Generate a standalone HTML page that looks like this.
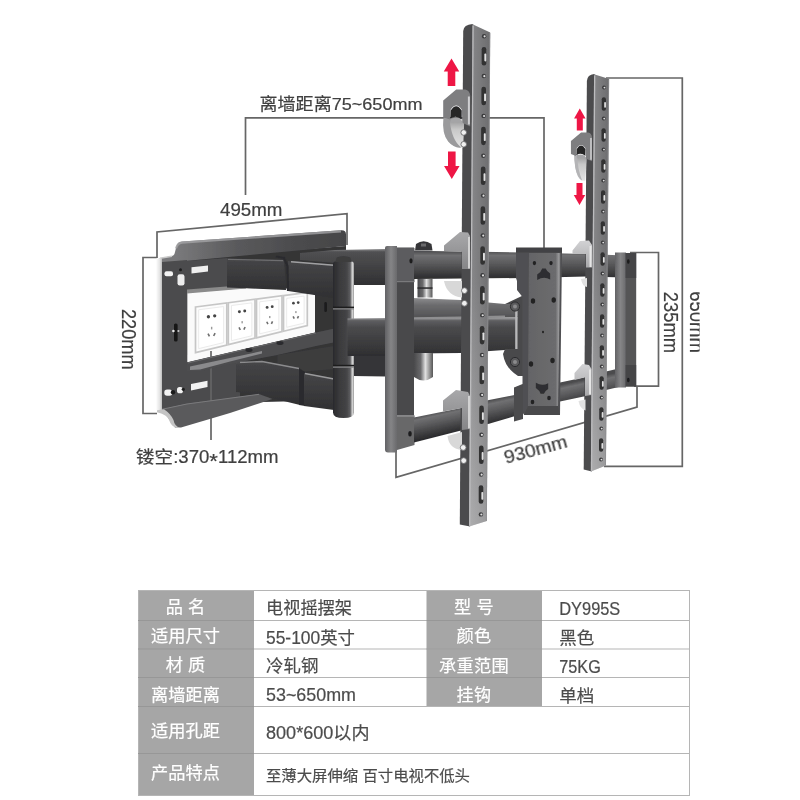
<!DOCTYPE html>
<html lang="zh-CN">
<head>
<meta charset="utf-8">
<title>电视摇摆架 DY995S</title>
<style>
html,body{margin:0;padding:0;background:#fff;}
body{width:800px;height:800px;overflow:hidden;position:relative;}
svg{position:absolute;left:0;top:0;display:block;}
svg text{font-family:"Liberation Sans","Noto Sans CJK SC",sans-serif;}
</style>
</head>
<body>
<svg width="800" height="800" viewBox="0 0 800 800">
<defs>
<linearGradient id="gTubeU" x1="0" y1="251" x2="0" y2="279" gradientUnits="userSpaceOnUse"><stop offset="0" stop-color="#4e4e50"/><stop offset="0.18" stop-color="#6f6f71"/><stop offset="0.5" stop-color="#58585a"/><stop offset="0.85" stop-color="#3a3a3c"/><stop offset="1" stop-color="#2c2c2e"/></linearGradient>
<linearGradient id="gBox" x1="0" y1="0" x2="0" y2="1"><stop offset="0" stop-color="#6a6a6c"/><stop offset="0.2" stop-color="#58585a"/><stop offset="0.75" stop-color="#444446"/><stop offset="1" stop-color="#323234"/></linearGradient>
<linearGradient id="gCap" x1="176" y1="0" x2="346" y2="0" gradientUnits="userSpaceOnUse"><stop offset="0" stop-color="#7a7a7c"/><stop offset="0.35" stop-color="#5a5a5c"/><stop offset="0.7" stop-color="#4c4c4e"/><stop offset="1" stop-color="#454547"/></linearGradient>
<linearGradient id="gArm" x1="0" y1="0" x2="0" y2="1"><stop offset="0" stop-color="#8a8a8c"/><stop offset="0.08" stop-color="#505052"/><stop offset="0.6" stop-color="#3e3e40"/><stop offset="1" stop-color="#303032"/></linearGradient>
<linearGradient id="gArm2" x1="0" y1="0" x2="0" y2="1"><stop offset="0" stop-color="#464648"/><stop offset="1" stop-color="#303032"/></linearGradient>
<linearGradient id="gCyl" x1="0" y1="0" x2="1" y2="0"><stop offset="0" stop-color="#2a2a2c"/><stop offset="0.3" stop-color="#3a3a3c"/><stop offset="0.65" stop-color="#444446"/><stop offset="0.82" stop-color="#5e5e60"/><stop offset="0.92" stop-color="#d6d6d6"/><stop offset="1" stop-color="#9a9a9a"/></linearGradient>
<linearGradient id="gPin" x1="0" y1="0" x2="1" y2="0"><stop offset="0" stop-color="#4a4a4c"/><stop offset="0.35" stop-color="#6a6a6c"/><stop offset="0.6" stop-color="#e0e0e0"/><stop offset="0.8" stop-color="#9a9a9a"/><stop offset="1" stop-color="#555"/></linearGradient>
<linearGradient id="gBarL" x1="0" y1="0" x2="1" y2="0"><stop offset="0" stop-color="#626264"/><stop offset="0.5" stop-color="#858587"/><stop offset="1" stop-color="#6a6a6c"/></linearGradient>
<linearGradient id="gStrip" x1="0" y1="0" x2="1" y2="0"><stop offset="0" stop-color="#fbfbfb"/><stop offset="0.6" stop-color="#e4e4e4"/><stop offset="1" stop-color="#bdbdbd"/></linearGradient>
<linearGradient id="gFaceL" x1="0" y1="0" x2="1" y2="0"><stop offset="0" stop-color="#8a8a8c"/><stop offset="1" stop-color="#6c6c6e"/></linearGradient>
<linearGradient id="gPlateF" x1="0" y1="0" x2="1" y2="0"><stop offset="0" stop-color="#646466"/><stop offset="0.85" stop-color="#6c6c6e"/><stop offset="0.95" stop-color="#9a9a9c"/><stop offset="1" stop-color="#6a6a6c"/></linearGradient>
<linearGradient id="gTab" x1="0" y1="0" x2="0" y2="1"><stop offset="0" stop-color="#a8a8aa"/><stop offset="1" stop-color="#868688"/></linearGradient>
<linearGradient id="gTabR" x1="0" y1="0" x2="0" y2="1"><stop offset="0" stop-color="#d2d2d4"/><stop offset="1" stop-color="#a8a8aa"/></linearGradient>
<linearGradient id="gHookS" x1="0" y1="0" x2="0" y2="1"><stop offset="0" stop-color="#8c8c8e"/><stop offset="0.4" stop-color="#c8c8c8"/><stop offset="1" stop-color="#e4e4e4"/></linearGradient>
<clipPath id="clip650"><rect x="600" y="280" width="99.6" height="90"/></clipPath>
<filter id="soft" filterUnits="userSpaceOnUse" x="0" y="0" width="800" height="800"><feGaussianBlur stdDeviation="0.6"/></filter>
<filter id="softT" filterUnits="userSpaceOnUse" x="0" y="0" width="800" height="800"><feGaussianBlur stdDeviation="0.45"/></filter>
</defs>
<g filter="url(#soft)">
<polyline points="245.5,195 245.5,117.8 544,117.8 544,248" fill="none" stroke="#666666" stroke-width="1.7" />
<polyline points="157,258 157,232 347,213.7 347,245" fill="none" stroke="#666666" stroke-width="1.7" />
<polyline points="157,257.5 143,257.5 143,413.5 157,413.5" fill="none" stroke="#666666" stroke-width="1.7" />
<polyline points="396,450 396,477.4 637,407 637,386" fill="none" stroke="#666666" stroke-width="1.7" />
<polyline points="630,252.5 658.5,252.5 658.5,386.2 634,386.2" fill="none" stroke="#666666" stroke-width="1.7" />
<polyline points="606,78 682.3,78 682.3,466.3 604,466.3" fill="none" stroke="#666666" stroke-width="1.7" />
<g id="wallplate">
<polygon points="186,258 346,246 346,400 186,404" fill="#343436" />
<polygon points="186,261 227.5,258 227.5,292 186,294" fill="#4b4b4d" />
<polygon points="186,355 240,350 240,402 186,405" fill="#4b4b4d" />
<polygon points="187.3,292.5 246,288 315,289 315,332.5 187.3,362.3" fill="#fafafa" />
<polygon points="187,289.5 246,285 246,288.5 187,293.5" fill="#8a8a8a" />
<polygon points="195.5,307 226.8,302.93 226.8,345.01 195.5,352.6" fill="#fcfcfc" stroke="#c6c6c6" stroke-width="1.7"/>
<polygon points="198.7,309.78 223.6,306.55 223.6,342.59 198.7,348.62" fill="#ffffff" stroke="#e6e6e6" stroke-width="0.8"/>
<circle cx="208.419" cy="316.722" r="1.66258" fill="#444" />
<circle cx="214.679" cy="315.847" r="1.66258" fill="#444" />
<rect x="210.95" y="326.793" width="1.4" height="2.62516" fill="#9a9a9a" />
<line x1="208.015" y1="333.58" x2="209.429" y2="336.426" stroke="#6e6e6e" stroke-width="1.6"/>
<line x1="215.083" y1="333.142" x2="213.669" y2="335.988" stroke="#6e6e6e" stroke-width="1.6"/>
<polygon points="228.3,302.74 255,299.26 255,338.18 228.3,344.65" fill="#fcfcfc" stroke="#c6c6c6" stroke-width="1.7"/>
<polygon points="231.5,305.52 251.8,302.88 251.8,335.75 231.5,340.67" fill="#ffffff" stroke="#e6e6e6" stroke-width="0.8"/>
<circle cx="239.394" cy="311.832" r="1.46968" fill="#444" />
<circle cx="244.734" cy="311.025" r="1.46968" fill="#444" />
<rect x="241.45" y="321.114" width="1.4" height="2.23935" fill="#9a9a9a" />
<line x1="239.049" y1="327.369" x2="240.255" y2="329.992" stroke="#6e6e6e" stroke-width="1.6"/>
<line x1="245.078" y1="326.965" x2="243.873" y2="329.589" stroke="#6e6e6e" stroke-width="1.6"/>
<polygon points="256.5,299.07 282,295.75 282,331.63 256.5,337.81" fill="#fcfcfc" stroke="#c6c6c6" stroke-width="1.7"/>
<polygon points="259.7,301.85 278.8,299.37 278.8,329.21 259.7,333.84" fill="#ffffff" stroke="#e6e6e6" stroke-width="0.8"/>
<circle cx="267.118" cy="307.406" r="1.41935" fill="#444" />
<circle cx="272.218" cy="306.661" r="1.41935" fill="#444" />
<rect x="269.05" y="315.975" width="1.4" height="2.13871" fill="#9a9a9a" />
<line x1="266.789" y1="321.749" x2="267.94" y2="324.171" stroke="#6e6e6e" stroke-width="1.6"/>
<line x1="272.547" y1="321.377" x2="271.395" y2="323.798" stroke="#6e6e6e" stroke-width="1.6"/>
<polygon points="283.5,295.56 307.3,292.47 307.3,325.5 283.5,331.27" fill="#fcfcfc" stroke="#c6c6c6" stroke-width="1.7"/>
<polygon points="286.7,298.34 304.1,296.08 304.1,323.08 286.7,327.29" fill="#ffffff" stroke="#e6e6e6" stroke-width="0.8"/>
<circle cx="293.443" cy="303.213" r="1.34806" fill="#444" />
<circle cx="298.203" cy="302.527" r="1.34806" fill="#444" />
<rect x="295.2" y="311.106" width="1.4" height="1.99613" fill="#9a9a9a" />
<line x1="293.136" y1="316.424" x2="294.211" y2="318.655" stroke="#6e6e6e" stroke-width="1.6"/>
<line x1="298.51" y1="316.081" x2="297.435" y2="318.312" stroke="#6e6e6e" stroke-width="1.6"/>
<rect x="324.3" y="302" width="2.6" height="10" fill="#1c1c1e" rx="1.2"/>
<rect x="324.5" y="336.5" width="3" height="4.5" fill="#e8e8e8" />
<polyline points="211,351 211,440" fill="none" stroke="#666666" stroke-width="1.7" />
<polygon points="187,362.5 230,352.5 316,332.5 346,326 346,340 316,346 277.5,355 230,364 200,371 187,371" fill="#4e4e50" />
<polygon points="190,366.5 230,358 262,351 262,353.5 230,361.5 200,369.5 190,370" fill="#8a8a8c" />
<polyline points="188,363 230,353 316,333" fill="none" stroke="#6a6a6c" stroke-width="1" />
<ellipse cx="249" cy="350" rx="3.6" ry="2" fill="#2c2c2e"/>
<ellipse cx="280" cy="343" rx="3.6" ry="2" fill="#2c2c2e"/>
<polygon points="277.5,355 346,344 346,368 300,372 277.5,366" fill="#3c3c3e" />
<polygon points="236,364 262,361 300,368.5 300,405 255,394 236,392" fill="url(#gArm2)" />
<polyline points="240,362.5 262,361.5 299,368.5" fill="none" stroke="#8c8c8e" stroke-width="1.3" />
<polygon points="299,368 305,372 305,406 299,405" fill="#2c2c2e" />
<polygon points="304,373 334,378.5 334,410 304,406" fill="url(#gArm2)" />
<polyline points="305,373.5 334,379" fill="none" stroke="#9a9a9c" stroke-width="1.3" />
<polygon points="227,258.5 284,260 286,290 227,287.5" fill="url(#gArm2)" />
<polyline points="228,259.3 283,260.6" fill="none" stroke="#6e6e70" stroke-width="1.2" />
<polygon points="288,261 334,264.5 334,298 288,291" fill="url(#gArm2)" />
<polyline points="291,261.8 334,265.2" fill="none" stroke="#a0a0a2" stroke-width="1.6" />
<polyline points="276,256.5 284,258 287.5,266 288,291" fill="none" stroke="#2c2c2e" stroke-width="2.2" />
<polygon points="300,253 335,250 385,249 385,285 352,285 335,263 300,260" fill="url(#gArm)" />
<path d="M159,258.5 L172,256 Q174.5,255.5 175,252 L176.5,246 Q177.5,241.8 182,241.5 L341,230.3 Q346,230 346,234.5 L346,246 L174,262 L162,262.5 Z" fill="url(#gCap)" />
<polyline points="160,258.3 172,256.3" fill="none" stroke="#c9c9c9" stroke-width="1.6" />
<path d="M176,248.5 Q177.3,243 182,242.6 L341,231.4" fill="none" stroke="#a4a4a6" stroke-width="2.2" stroke-opacity="0.8"/>
<polygon points="162,262 187,260 187,404 162,409.5" fill="#4b4b4d" />
<polygon points="156.3,258.5 162,258 162,410 156.3,410.5" fill="url(#gStrip)" />
<rect x="164.5" y="271.3" width="8.5" height="5" fill="#f2f2f2" rx="2"/>
<circle cx="180.5" cy="269.8" r="1.5" fill="#1c1c1e" />
<rect x="177.5" y="274.2" width="7" height="11.3" fill="#ededed" rx="2.2"/>
<polygon points="191.5,267.3 208,265.5 208,271.5 191.5,273.5" fill="#efefef" />
<rect x="174" y="323.5" width="3.6" height="18" fill="#141416" rx="1.6"/>
<circle cx="173.4" cy="331" r="1.3" fill="#e8e8e8" />
<circle cx="178.4" cy="331" r="1.1" fill="#c8c8c8" />
<rect x="164.3" y="389.5" width="8" height="6.3" fill="#f2f2f2" rx="2.8"/>
<circle cx="173" cy="392.3" r="2.2" fill="#1c1c1e" />
<rect x="177" y="387" width="6" height="6.3" fill="#f2f2f2" rx="2.6"/>
<circle cx="183.3" cy="389.3" r="1.6" fill="#1c1c1e" />
<polygon points="191,384 207.5,380.8 207.5,387 191,390.5" fill="#f2f2f2" />
<polygon points="162,409 187,403.5 259,394 272.5,399 230,413 181,427.5 175,427.5" fill="#5a5a5c" />
<polyline points="162,409.3 187,404 259,394.3" fill="none" stroke="#7a7a7c" stroke-width="1" />
<path d="M157,410.3 L164,409.2 Q171,414 173.5,420 Q174.5,426 180,428 L176.5,428 Q171,426 169.5,421 Q168,415 157,412.3 Z" fill="#c4c4c4" />
</g>
<polygon points="353,355 386,355 386,376.5 353,376" fill="#363638" />
<path d="M333,264 Q333,261.5 335.5,261.5 L351.5,261.5 Q354,261.5 354,264 L354,412.5 Q354,418 343.5,418 Q333,418 333,412.5 Z" fill="url(#gCyl)" />
<path d="M335.5,262 L336.5,257.5 Q343.5,254.5 350.5,257.5 L351.5,262 Z" fill="#3c3c3e" />
<rect x="333" y="306.6" width="21" height="1.6" fill="#1c1c1e" />
<rect x="333" y="364.8" width="21" height="1.6" fill="#1c1c1e" />
<rect x="333" y="308.3" width="21" height="1.2" fill="#8a8a8c" />
<rect x="333" y="366.5" width="21" height="1.2" fill="#8a8a8c" />
<defs><linearGradient id="gMid" x1="0" y1="318" x2="0" y2="357" gradientUnits="userSpaceOnUse"><stop offset="0" stop-color="#9c9c9e"/><stop offset="0.07" stop-color="#5e5e60"/><stop offset="0.25" stop-color="#4a4a4c"/><stop offset="0.8" stop-color="#363638"/><stop offset="1" stop-color="#2c2c2e"/></linearGradient></defs>
<polygon points="347.5,318.5 386,318 386,356 347.5,356" fill="url(#gMid)" />
<polygon points="413,317.5 461,317 505,316 517.5,316 517.5,349 461,353 413,353.5" fill="url(#gMid)" />
<defs><linearGradient id="gMidTop" x1="0" y1="298" x2="0" y2="318" gradientUnits="userSpaceOnUse"><stop offset="0" stop-color="#8c8c8e"/><stop offset="0.35" stop-color="#6c6c6e"/><stop offset="1" stop-color="#525254"/></linearGradient></defs>
<polygon points="413,298 461,300 505,304 517.5,304 517.5,317 413,318" fill="url(#gMidTop)" />
<polyline points="413,318 461,317.3 505,316.3" fill="none" stroke="#8e8e90" stroke-width="1.6" />
<rect x="417.5" y="279" width="15" height="18.5" fill="url(#gPin)" />
<rect x="417.5" y="287.3" width="15" height="1.5" fill="#2a2a2c" />
<path d="M414,353 L433,353 L433,377 Q423.5,384 414,377 Z" fill="url(#gPin)" />
<path d="M385,248 Q385,246 387,246 L397,246 L397,452.5 L388,452.5 Q385,452.5 385,449.5 Z" fill="url(#gBarL)" />
<rect x="397" y="247.5" width="17" height="168" fill="#4a4a4c" />
<rect x="397" y="248" width="17.5" height="33.5" fill="#5c5c5e" />
<rect x="397" y="281" width="17.5" height="1.2" fill="#7a7a7c" />
<ellipse cx="411" cy="260.8" rx="1.6" ry="2.6" fill="#1c1c1e"/>
<polygon points="397,415.5 414.5,415.5 414.5,445 397,450" fill="#676769" />
<rect x="397" y="415.5" width="17.5" height="1.3" fill="#8a8a8c" />
<ellipse cx="410" cy="433.8" rx="1.8" ry="2.8" fill="#1c1c1e"/>
<path d="M415,250.5 L416,244 Q423.5,238.5 431.5,244 L432.5,250.5 Z" fill="#363638" />
<rect x="421" y="243.5" width="5" height="3" fill="#6a6a6c" />
<path d="M505,304 L524,295 L524,376 L518,376 Q505,368 503,354 L505,349 L517.5,349 L517.5,304 Z" fill="#4a4a4c" />
<rect x="515.2" y="306" width="2" height="43" fill="#b8b8ba" />
<circle cx="515" cy="306.5" r="4.6" fill="#5a5a5c" stroke="#2c2c2e" stroke-width="1"/>
<circle cx="515" cy="306.5" r="2" fill="#8a8a8c" />
<circle cx="515" cy="362" r="4.6" fill="#5a5a5c" stroke="#2c2c2e" stroke-width="1"/>
<circle cx="515" cy="362" r="2" fill="#8a8a8c" />
<defs><linearGradient id="gTU" x1="0" y1="251" x2="0" y2="279" gradientUnits="userSpaceOnUse"><stop offset="0" stop-color="#4c4c4e"/><stop offset="0.16" stop-color="#707072"/><stop offset="0.45" stop-color="#5a5a5c"/><stop offset="0.8" stop-color="#3c3c3e"/><stop offset="1" stop-color="#2c2c2e"/></linearGradient></defs>
<polygon points="414,250.8 524,252.5 586,254 625,255.5 625,277.5 586,276.5 524,278 414,279" fill="url(#gTU)" />
<defs><linearGradient id="gTL" x1="500" y1="398" x2="505" y2="421" gradientUnits="userSpaceOnUse"><stop offset="0" stop-color="#4c4c4e"/><stop offset="0.16" stop-color="#707072"/><stop offset="0.45" stop-color="#5a5a5c"/><stop offset="0.8" stop-color="#3c3c3e"/><stop offset="1" stop-color="#2c2c2e"/></linearGradient></defs>
<polygon points="414,417.5 461,408 489,400 522,393.5 560,382.5 586,377 606,371.5 625,367 625,385.5 606,390 586,396 560,401.5 522,414 489,423.7 461,430.6 414,442.5" fill="url(#gTL)" />
<rect x="615" y="252.5" width="11" height="135" fill="url(#gBarL)" />
<rect x="625.6" y="253" width="10.6" height="133.5" fill="#555557" />
<rect x="625.6" y="253" width="10.6" height="25" fill="#444446" />
<rect x="625.6" y="365" width="10.6" height="21.5" fill="#444446" />
<ellipse cx="628.3" cy="261.5" rx="1.3" ry="2.2" fill="#1a1a1c"/>
<ellipse cx="628.3" cy="380" rx="1.3" ry="2.2" fill="#1a1a1c"/>
<path d="M516,249 L562,249 L562,253 L560,415 L524,415 L522.5,411 L522.5,392 L514,394 L514,387.5 L522.5,384 L522.5,297 L517,290 L517,281 L516,278 Z" fill="#505052" />
<rect x="516" y="247.5" width="46" height="5" fill="#434345" />
<polygon points="514,388 523,384.5 523,419 514,421.5" fill="#4c4c4e" />
<polygon points="529,253 560.5,253 558,406 528,406" fill="url(#gPlateF)" />
<polygon points="528,406 558,406 560,415 524,415" fill="#4a4a4c" />
<ellipse cx="534.4" cy="263" rx="1.7" ry="2.125" fill="#222224"/>
<ellipse cx="551" cy="263" rx="1.7" ry="2.125" fill="#222224"/>
<ellipse cx="533" cy="301" rx="2.2" ry="2.75" fill="#222224"/>
<ellipse cx="553.7" cy="300" rx="2.2" ry="2.75" fill="#222224"/>
<ellipse cx="543" cy="332" rx="1" ry="1.25" fill="#222224"/>
<ellipse cx="531" cy="364" rx="2.2" ry="2.75" fill="#222224"/>
<ellipse cx="552.5" cy="360.6" rx="2.2" ry="2.75" fill="#222224"/>
<ellipse cx="532.5" cy="402" rx="1.8" ry="2.25" fill="#222224"/>
<ellipse cx="549" cy="398" rx="1.8" ry="2.25" fill="#222224"/>
<path transform="translate(543.7,274.5) scale(1)" d="M-1.5,-6 L2,-6 Q3,-3 6.5,-1 L6.5,5 Q0,1.5 -6.5,5.5 L-6.5,0 Q-2.5,-2.5 -1.5,-6 Z" fill="#2e2e30"/>
<g transform="translate(0,776) scale(1,-1)">
<path transform="translate(542,388) scale(0.95)" d="M-1.5,-6 L2,-6 Q3,-3 6.5,-1 L6.5,5 Q0,1.5 -6.5,5.5 L-6.5,0 Q-2.5,-2.5 -1.5,-6 Z" fill="#2e2e30"/>
</g>
<defs><linearGradient id="gR1" x1="0" y1="24" x2="0" y2="525.5" gradientUnits="userSpaceOnUse"><stop offset="0" stop-color="#ffffff" stop-opacity="0"/><stop offset="0.5" stop-color="#ffffff" stop-opacity="0"/><stop offset="1" stop-color="#ffffff" stop-opacity="0.3"/></linearGradient></defs>
<path d="M463.2,31 Q463.7,24.5 472.5,24 L473.5,25 L470.1,526.5 L459.8,524.5 Z" fill="#4b4b4d" />
<polygon points="472.5,24.3 490.2,32.5 486.8,521 469.1,526.5" fill="url(#gFaceL)" />
<polygon points="472.5,24.3 490.2,32.5 486.8,521 469.1,526.5" fill="url(#gR1)" />
<polyline points="473.1,25.5 469.7,525.5" fill="none" stroke="#bcbcbe" stroke-width="1.3" />
<polyline points="489.8,33 486.4,521" fill="none" stroke="#8e8e90" stroke-width="0.8" />
<circle cx="484.117" cy="36.2" r="2.2" fill="#3a3a3c" />
<circle cx="484.617" cy="36.3" r="1.1" fill="#e0e0e0" />
<circle cx="483.847" cy="76.05" r="2.2" fill="#3a3a3c" />
<circle cx="484.347" cy="76.15" r="1.1" fill="#e0e0e0" />
<circle cx="483.577" cy="115.9" r="2.2" fill="#3a3a3c" />
<circle cx="484.077" cy="116" r="1.1" fill="#e0e0e0" />
<circle cx="483.307" cy="155.75" r="2.2" fill="#3a3a3c" />
<circle cx="483.807" cy="155.85" r="1.1" fill="#e0e0e0" />
<circle cx="483.037" cy="195.6" r="2.2" fill="#3a3a3c" />
<circle cx="483.537" cy="195.7" r="1.1" fill="#e0e0e0" />
<circle cx="482.766" cy="235.45" r="2.2" fill="#3a3a3c" />
<circle cx="483.266" cy="235.55" r="1.1" fill="#e0e0e0" />
<circle cx="482.496" cy="275.3" r="2.2" fill="#3a3a3c" />
<circle cx="482.996" cy="275.4" r="1.1" fill="#e0e0e0" />
<circle cx="482.226" cy="315.15" r="2.2" fill="#3a3a3c" />
<circle cx="482.726" cy="315.25" r="1.1" fill="#e0e0e0" />
<circle cx="481.956" cy="355" r="2.2" fill="#3a3a3c" />
<circle cx="482.456" cy="355.1" r="1.1" fill="#e0e0e0" />
<circle cx="481.686" cy="394.85" r="2.2" fill="#3a3a3c" />
<circle cx="482.186" cy="394.95" r="1.1" fill="#e0e0e0" />
<circle cx="481.416" cy="434.7" r="2.2" fill="#3a3a3c" />
<circle cx="481.916" cy="434.8" r="1.1" fill="#e0e0e0" />
<circle cx="481.145" cy="474.55" r="2.2" fill="#3a3a3c" />
<circle cx="481.645" cy="474.65" r="1.1" fill="#e0e0e0" />
<circle cx="480.875" cy="514.4" r="2.2" fill="#3a3a3c" />
<circle cx="481.375" cy="514.5" r="1.1" fill="#e0e0e0" />
<rect x="481.682" y="46.95" width="4.6" height="18.5" fill="#303032" rx="2.3"/>
<rect x="484.35" y="53.61" width="1.932" height="7.77" fill="#e0e0e0" rx="0.8"/>
<rect x="481.412" y="86.8" width="4.6" height="18.5" fill="#303032" rx="2.3"/>
<rect x="484.08" y="93.46" width="1.932" height="7.77" fill="#e0e0e0" rx="0.8"/>
<rect x="481.141" y="126.65" width="4.6" height="18.5" fill="#303032" rx="2.3"/>
<rect x="483.809" y="133.31" width="1.932" height="7.77" fill="#e0e0e0" rx="0.8"/>
<rect x="480.871" y="166.5" width="4.6" height="18.5" fill="#303032" rx="2.3"/>
<rect x="483.539" y="173.16" width="1.932" height="7.77" fill="#e0e0e0" rx="0.8"/>
<rect x="480.601" y="206.35" width="4.6" height="18.5" fill="#303032" rx="2.3"/>
<rect x="483.269" y="213.01" width="1.932" height="7.77" fill="#e0e0e0" rx="0.8"/>
<rect x="480.331" y="246.2" width="4.6" height="18.5" fill="#303032" rx="2.3"/>
<rect x="482.999" y="252.86" width="1.932" height="7.77" fill="#e0e0e0" rx="0.8"/>
<rect x="480.061" y="286.05" width="4.6" height="18.5" fill="#303032" rx="2.3"/>
<rect x="482.729" y="292.71" width="1.932" height="7.77" fill="#e0e0e0" rx="0.8"/>
<rect x="479.791" y="325.9" width="4.6" height="18.5" fill="#303032" rx="2.3"/>
<rect x="482.459" y="332.56" width="1.932" height="7.77" fill="#e0e0e0" rx="0.8"/>
<rect x="479.52" y="365.75" width="4.6" height="18.5" fill="#303032" rx="2.3"/>
<rect x="482.188" y="372.41" width="1.932" height="7.77" fill="#e0e0e0" rx="0.8"/>
<rect x="479.25" y="405.6" width="4.6" height="18.5" fill="#303032" rx="2.3"/>
<rect x="481.918" y="412.26" width="1.932" height="7.77" fill="#e0e0e0" rx="0.8"/>
<rect x="478.98" y="445.45" width="4.6" height="18.5" fill="#303032" rx="2.3"/>
<rect x="481.648" y="452.11" width="1.932" height="7.77" fill="#e0e0e0" rx="0.8"/>
<rect x="478.71" y="485.3" width="4.6" height="18.5" fill="#303032" rx="2.3"/>
<rect x="481.378" y="491.96" width="1.932" height="7.77" fill="#e0e0e0" rx="0.8"/>
<defs><linearGradient id="gR2" x1="0" y1="74" x2="0" y2="470.5" gradientUnits="userSpaceOnUse"><stop offset="0" stop-color="#ffffff" stop-opacity="0"/><stop offset="0.5" stop-color="#ffffff" stop-opacity="0"/><stop offset="1" stop-color="#ffffff" stop-opacity="0.3"/></linearGradient></defs>
<path d="M586.9,81 Q587.4,74.5 594.1,74 L595.1,75 L591.9,471.5 L583.7,469.5 Z" fill="#4b4b4d" />
<polygon points="594.1,74.3 609.1,79 605.9,465.5 590.9,471.5" fill="url(#gFaceL)" />
<polygon points="594.1,74.3 609.1,79 605.9,465.5 590.9,471.5" fill="url(#gR2)" />
<polyline points="594.7,75.5 591.5,470.5" fill="none" stroke="#bcbcbe" stroke-width="1.3" />
<polyline points="608.7,79.5 605.5,465.5" fill="none" stroke="#8e8e90" stroke-width="0.8" />
<circle cx="603.991" cy="87.5" r="1.9" fill="#3a3a3c" />
<circle cx="604.491" cy="87.6" r="0.95" fill="#e0e0e0" />
<circle cx="603.741" cy="118.5" r="1.9" fill="#3a3a3c" />
<circle cx="604.241" cy="118.6" r="0.95" fill="#e0e0e0" />
<circle cx="603.491" cy="149.5" r="1.9" fill="#3a3a3c" />
<circle cx="603.991" cy="149.6" r="0.95" fill="#e0e0e0" />
<circle cx="603.24" cy="180.5" r="1.9" fill="#3a3a3c" />
<circle cx="603.74" cy="180.6" r="0.95" fill="#e0e0e0" />
<circle cx="602.99" cy="211.5" r="1.9" fill="#3a3a3c" />
<circle cx="603.49" cy="211.6" r="0.95" fill="#e0e0e0" />
<circle cx="602.74" cy="242.5" r="1.9" fill="#3a3a3c" />
<circle cx="603.24" cy="242.6" r="0.95" fill="#e0e0e0" />
<circle cx="602.49" cy="273.5" r="1.9" fill="#3a3a3c" />
<circle cx="602.99" cy="273.6" r="0.95" fill="#e0e0e0" />
<circle cx="602.24" cy="304.5" r="1.9" fill="#3a3a3c" />
<circle cx="602.74" cy="304.6" r="0.95" fill="#e0e0e0" />
<circle cx="601.99" cy="335.5" r="1.9" fill="#3a3a3c" />
<circle cx="602.49" cy="335.6" r="0.95" fill="#e0e0e0" />
<circle cx="601.739" cy="366.5" r="1.9" fill="#3a3a3c" />
<circle cx="602.239" cy="366.6" r="0.95" fill="#e0e0e0" />
<circle cx="601.489" cy="397.5" r="1.9" fill="#3a3a3c" />
<circle cx="601.989" cy="397.6" r="0.95" fill="#e0e0e0" />
<circle cx="601.239" cy="428.5" r="1.9" fill="#3a3a3c" />
<circle cx="601.739" cy="428.6" r="0.95" fill="#e0e0e0" />
<circle cx="600.989" cy="459.5" r="1.9" fill="#3a3a3c" />
<circle cx="601.489" cy="459.6" r="0.95" fill="#e0e0e0" />
<rect x="601.758" y="97.25" width="4.2" height="13.5" fill="#303032" rx="2.1"/>
<rect x="604.194" y="102.11" width="1.764" height="5.67" fill="#e0e0e0" rx="0.8"/>
<rect x="601.508" y="128.25" width="4.2" height="13.5" fill="#303032" rx="2.1"/>
<rect x="603.944" y="133.11" width="1.764" height="5.67" fill="#e0e0e0" rx="0.8"/>
<rect x="601.258" y="159.25" width="4.2" height="13.5" fill="#303032" rx="2.1"/>
<rect x="603.694" y="164.11" width="1.764" height="5.67" fill="#e0e0e0" rx="0.8"/>
<rect x="601.007" y="190.25" width="4.2" height="13.5" fill="#303032" rx="2.1"/>
<rect x="603.443" y="195.11" width="1.764" height="5.67" fill="#e0e0e0" rx="0.8"/>
<rect x="600.757" y="221.25" width="4.2" height="13.5" fill="#303032" rx="2.1"/>
<rect x="603.193" y="226.11" width="1.764" height="5.67" fill="#e0e0e0" rx="0.8"/>
<rect x="600.507" y="252.25" width="4.2" height="13.5" fill="#303032" rx="2.1"/>
<rect x="602.943" y="257.11" width="1.764" height="5.67" fill="#e0e0e0" rx="0.8"/>
<rect x="600.257" y="283.25" width="4.2" height="13.5" fill="#303032" rx="2.1"/>
<rect x="602.693" y="288.11" width="1.764" height="5.67" fill="#e0e0e0" rx="0.8"/>
<rect x="600.007" y="314.25" width="4.2" height="13.5" fill="#303032" rx="2.1"/>
<rect x="602.443" y="319.11" width="1.764" height="5.67" fill="#e0e0e0" rx="0.8"/>
<rect x="599.756" y="345.25" width="4.2" height="13.5" fill="#303032" rx="2.1"/>
<rect x="602.192" y="350.11" width="1.764" height="5.67" fill="#e0e0e0" rx="0.8"/>
<rect x="599.506" y="376.25" width="4.2" height="13.5" fill="#303032" rx="2.1"/>
<rect x="601.942" y="381.11" width="1.764" height="5.67" fill="#e0e0e0" rx="0.8"/>
<rect x="599.256" y="407.25" width="4.2" height="13.5" fill="#303032" rx="2.1"/>
<rect x="601.692" y="412.11" width="1.764" height="5.67" fill="#e0e0e0" rx="0.8"/>
<rect x="599.006" y="438.25" width="4.2" height="13.5" fill="#303032" rx="2.1"/>
<rect x="601.442" y="443.11" width="1.764" height="5.67" fill="#e0e0e0" rx="0.8"/>
<polygon points="444,245.6 460,232 468,232.5 470,236 470,269 462,269 462,251.5 444,251" fill="url(#gTab)" />
<rect x="468" y="237" width="2" height="31.5" fill="#d2d2d2" />
<path d="M444,281 L462,281 L462,297.5 Q447,296 444,281 Z" fill="#d8d8d8" />
<polygon points="443,400.6 456,390 468,392 470,396 470,429 462,430 462,408 443,411.5" fill="url(#gTab)" />
<rect x="468" y="396" width="2" height="32.5" fill="#d2d2d2" />
<path d="M447.5,436 L462,432 L462,450 Q449,449 447.5,436 Z" fill="#d8d8d8" />
<polygon points="572.5,250.6 580,241 589,240.6 592,245 592,267.5 586,267.5 586,254 572.5,254" fill="url(#gTabR)" />
<rect x="589.5" y="246" width="2" height="21" fill="#e6e6e6" />
<path d="M581,279 L587,278 L587,287 Q582,286 581,279 Z" fill="#e2e2e2" />
<polygon points="574.5,373 582.5,364 589,365 591.5,369 591.5,395 585,396 585,377.3 574.5,380" fill="url(#gTabR)" />
<rect x="589" y="369.5" width="2" height="25" fill="#e6e6e6" />
<path d="M578.5,401 L585.5,399.5 L585.5,410.5 Q580,409 578.5,401 Z" fill="#e2e2e2" />
<g transform="translate(470.2,89.5) scale(1)">
<path d="M-26.5,28 Q-28.5,44 -22,52 Q-16,59 -7,58 L-6,32 Z" fill="url(#gHookS)" />
<path d="M-26.5,28 Q-28.5,44 -22,52 Q-16,59 -9,58 Q-19,50 -20.5,30 Z" fill="#9a9a9c" />
<path d="M-14,0 L-5,0 Q-0.5,1 0,6 L0,37 L-7.5,33.5 L-8.5,20 Q-14,12 -19.5,20 L-20.5,30 L-27,27.5 L-27,11 Z" fill="#7e7e80" />
<path d="M-20,29 L-19.5,21 Q-14,12.5 -8.5,21 L-8.5,30 Q-14,25 -20,29 Z" fill="#262628" />
<path d="M-19.5,30 Q-14,26 -8.5,30.5 L-8.5,34 Q-14,31.5 -19.5,33 Z" fill="#a4a4a6" />
<rect x="-2.3" y="7" width="2" height="28" fill="#cfcfd1" />
</g>
<g transform="translate(592,132.5) scale(0.78)">
<path d="M-22.5,27 Q-23,46 -18,56 Q-14,63 -8.5,61.5 L-7,32 Z" fill="url(#gHookS)" />
<path d="M-22.5,27 Q-23,46 -18,56 Q-15.5,60.5 -12.5,61.8 Q-18.5,48 -19,29 Z" fill="#b4b4b6" />
<path d="M-14,0 L-5,0 Q-0.5,1 0,6 L0,37 L-7.5,33.5 L-8.5,20 Q-14,12 -19.5,20 L-20.5,30 L-27,27.5 L-27,11 Z" fill="#7e7e80" />
<path d="M-20,29 L-19.5,21 Q-14,12.5 -8.5,21 L-8.5,30 Q-14,25 -20,29 Z" fill="#262628" />
<path d="M-19.5,30 Q-14,26 -8.5,30.5 L-8.5,34 Q-14,31.5 -19.5,33 Z" fill="#a4a4a6" />
<rect x="-2.3" y="7" width="2" height="28" fill="#cfcfd1" />
</g>
<circle cx="463.7" cy="132.5" r="2.8" fill="#f0f0f0" stroke="#6a6a6c" stroke-width="0.9"/>
<circle cx="463.7" cy="144.3" r="2.8" fill="#f0f0f0" stroke="#6a6a6c" stroke-width="0.9"/>
<circle cx="464.4" cy="290.6" r="2.9" fill="#f0f0f0" stroke="#6a6a6c" stroke-width="0.9"/>
<circle cx="464.4" cy="303.3" r="2.9" fill="#f0f0f0" stroke="#6a6a6c" stroke-width="0.9"/>
<circle cx="463.2" cy="447.5" r="2.9" fill="#f0f0f0" stroke="#6a6a6c" stroke-width="0.9"/>
<circle cx="463.7" cy="460.6" r="2.9" fill="#f0f0f0" stroke="#6a6a6c" stroke-width="0.9"/>
<polygon points="451.5,58.5 459.25,71.5 455.3,71.5 455.3,86 447.7,86 447.7,71.5 443.75,71.5" fill="#ee1545" />
<polygon points="451.8,179 459.55,166 455.6,166 455.6,151.5 448,151.5 448,166 444.05,166" fill="#ee1545" />
<polygon points="579.8,108.5 585.55,118.5 582.8,118.5 582.8,130.5 576.8,130.5 576.8,118.5 574.05,118.5" fill="#ee1545" />
<polygon points="579.5,205 585.25,195 582.5,195 582.5,183 576.5,183 576.5,195 573.75,195" fill="#ee1545" />
</g>
<g filter="url(#softT)">
<text x="259.5" y="109.7" font-size="17.3" fill="#3f3f3f" text-anchor="start" textLength="163" lengthAdjust="spacingAndGlyphs" stroke="#3a3a3a" stroke-width="0.2">离墙距离75~650mm</text>
<text x="220" y="215.9" font-size="18.6" fill="#3f3f3f" text-anchor="start" textLength="62.5" lengthAdjust="spacingAndGlyphs" stroke="#3a3a3a" stroke-width="0.2">495mm</text>
<text x="136" y="462.5" font-size="17.6" fill="#3f3f3f" text-anchor="start" textLength="142.5" lengthAdjust="spacingAndGlyphs" stroke="#3a3a3a" stroke-width="0.2">镂空:370<tspan dy="5.3" font-size="21">*</tspan><tspan dy="-5.3">112mm</tspan></text>
<text x="0" y="0" font-size="19.5" fill="#3f3f3f" text-anchor="start" textLength="60.7" lengthAdjust="spacingAndGlyphs" transform="translate(121.8,309) rotate(90)" stroke="#3a3a3a" stroke-width="0.2">220mm</text>
<text x="0" y="0" font-size="18.8" fill="#3f3f3f" text-anchor="start" textLength="64.6" lengthAdjust="spacingAndGlyphs" transform="translate(506,464) rotate(-15.2)" stroke="#3a3a3a" stroke-width="0.2">930mm</text>
<text x="0" y="0" font-size="19.5" fill="#3f3f3f" text-anchor="start" textLength="61.3" lengthAdjust="spacingAndGlyphs" transform="translate(663.5,291.8) rotate(90)" stroke="#3a3a3a" stroke-width="0.2">235mm</text>
<g clip-path="url(#clip650)">
<text x="0" y="0" font-size="19.5" fill="#3f3f3f" text-anchor="start" textLength="61.5" lengthAdjust="spacingAndGlyphs" transform="translate(689.6,291.3) rotate(90)" stroke="#3a3a3a" stroke-width="0.2">650mm</text>
</g>
<g id="table">
<rect x="138" y="590" width="116" height="205.5" fill="#a6a6a6" />
<rect x="426.5" y="590" width="115.5" height="116.5" fill="#a6a6a6" />
<rect x="138.5" y="590.5" width="551" height="205" fill="none" stroke="#b5b5b5" stroke-width="1"/>
<line x1="254" y1="620.5" x2="690" y2="620.5" stroke="#b5b5b5" stroke-width="1"/>
<line x1="138" y1="620.5" x2="254" y2="620.5" stroke="#979797" stroke-width="1"/>
<line x1="254" y1="649" x2="690" y2="649" stroke="#b5b5b5" stroke-width="1"/>
<line x1="138" y1="649" x2="254" y2="649" stroke="#979797" stroke-width="1"/>
<line x1="254" y1="677.5" x2="690" y2="677.5" stroke="#b5b5b5" stroke-width="1"/>
<line x1="138" y1="677.5" x2="254" y2="677.5" stroke="#979797" stroke-width="1"/>
<line x1="254" y1="706.5" x2="690" y2="706.5" stroke="#b5b5b5" stroke-width="1"/>
<line x1="138" y1="706.5" x2="254" y2="706.5" stroke="#979797" stroke-width="1"/>
<line x1="254" y1="753.5" x2="690" y2="753.5" stroke="#b5b5b5" stroke-width="1"/>
<line x1="138" y1="753.5" x2="254" y2="753.5" stroke="#979797" stroke-width="1"/>
<line x1="426.5" y1="620.5" x2="542" y2="620.5" stroke="#979797" stroke-width="1"/>
<line x1="426.5" y1="649" x2="542" y2="649" stroke="#979797" stroke-width="1"/>
<line x1="426.5" y1="677.5" x2="542" y2="677.5" stroke="#979797" stroke-width="1"/>
<text x="185.5" y="613" font-size="17.2" fill="#fff" text-anchor="middle" letter-spacing="0.1" stroke="#fff" stroke-width="0.22">品 名</text>
<text x="185.5" y="642.3" font-size="17.2" fill="#fff" text-anchor="middle" letter-spacing="0.1" stroke="#fff" stroke-width="0.22">适用尺寸</text>
<text x="185.5" y="671.3" font-size="17.2" fill="#fff" text-anchor="middle" letter-spacing="0.1" stroke="#fff" stroke-width="0.22">材 质</text>
<text x="185.5" y="700.5" font-size="17.2" fill="#fff" text-anchor="middle" letter-spacing="0.1" stroke="#fff" stroke-width="0.22">离墙距离</text>
<text x="185.5" y="737.3" font-size="17.2" fill="#fff" text-anchor="middle" letter-spacing="0.1" stroke="#fff" stroke-width="0.22">适用孔距</text>
<text x="185.5" y="779" font-size="17.2" fill="#fff" text-anchor="middle" letter-spacing="0.1" stroke="#fff" stroke-width="0.22">产品特点</text>
<text x="474" y="613" font-size="17.2" fill="#fff" text-anchor="middle" letter-spacing="0.3" stroke="#fff" stroke-width="0.22">型 号</text>
<text x="474" y="642.3" font-size="17.2" fill="#fff" text-anchor="middle" letter-spacing="0.3" stroke="#fff" stroke-width="0.22">颜色</text>
<text x="474" y="671.8" font-size="17.2" fill="#fff" text-anchor="middle" letter-spacing="0.3" stroke="#fff" stroke-width="0.22">承重范围</text>
<text x="474" y="700.5" font-size="17.2" fill="#fff" text-anchor="middle" letter-spacing="0.3" stroke="#fff" stroke-width="0.22">挂钩</text>
<text x="266" y="613.5" font-size="17.5" fill="#4c4c4c" text-anchor="start" textLength="86" lengthAdjust="spacingAndGlyphs" stroke="#4c4c4c" stroke-width="0.2">电视摇摆架</text>
<text x="266" y="643.5" font-size="17.5" fill="#4c4c4c" text-anchor="start" textLength="89" lengthAdjust="spacingAndGlyphs" stroke="#4c4c4c" stroke-width="0.2">55-100英寸</text>
<text x="266" y="672" font-size="17.5" fill="#4c4c4c" text-anchor="start" stroke="#4c4c4c" stroke-width="0.2">冷轧钢</text>
<text x="266" y="701.2" font-size="17.5" fill="#4c4c4c" text-anchor="start" textLength="90" lengthAdjust="spacingAndGlyphs" stroke="#4c4c4c" stroke-width="0.2">53~650mm</text>
<text x="266" y="738.5" font-size="17.5" fill="#4c4c4c" text-anchor="start" textLength="103.5" lengthAdjust="spacingAndGlyphs" stroke="#4c4c4c" stroke-width="0.2">800*600以内</text>
<text x="266" y="781" font-size="15.3" fill="#4c4c4c" text-anchor="start" textLength="204" lengthAdjust="spacingAndGlyphs" stroke="#4c4c4c" stroke-width="0.2">至薄大屏伸缩 百寸电视不低头</text>
<text x="559.3" y="614.6" font-size="17.5" fill="#4c4c4c" text-anchor="start" textLength="61" lengthAdjust="spacingAndGlyphs" stroke="#4c4c4c" stroke-width="0.2">DY995S</text>
<text x="559.3" y="643.8" font-size="17.5" fill="#4c4c4c" text-anchor="start" stroke="#4c4c4c" stroke-width="0.2">黑色</text>
<text x="559.3" y="673" font-size="17.5" fill="#4c4c4c" text-anchor="start" textLength="41.5" lengthAdjust="spacingAndGlyphs" stroke="#4c4c4c" stroke-width="0.2">75KG</text>
<text x="559.3" y="701.8" font-size="17.5" fill="#4c4c4c" text-anchor="start" stroke="#4c4c4c" stroke-width="0.2">单档</text>
</g>
</g>
</svg>
</body>
</html>
